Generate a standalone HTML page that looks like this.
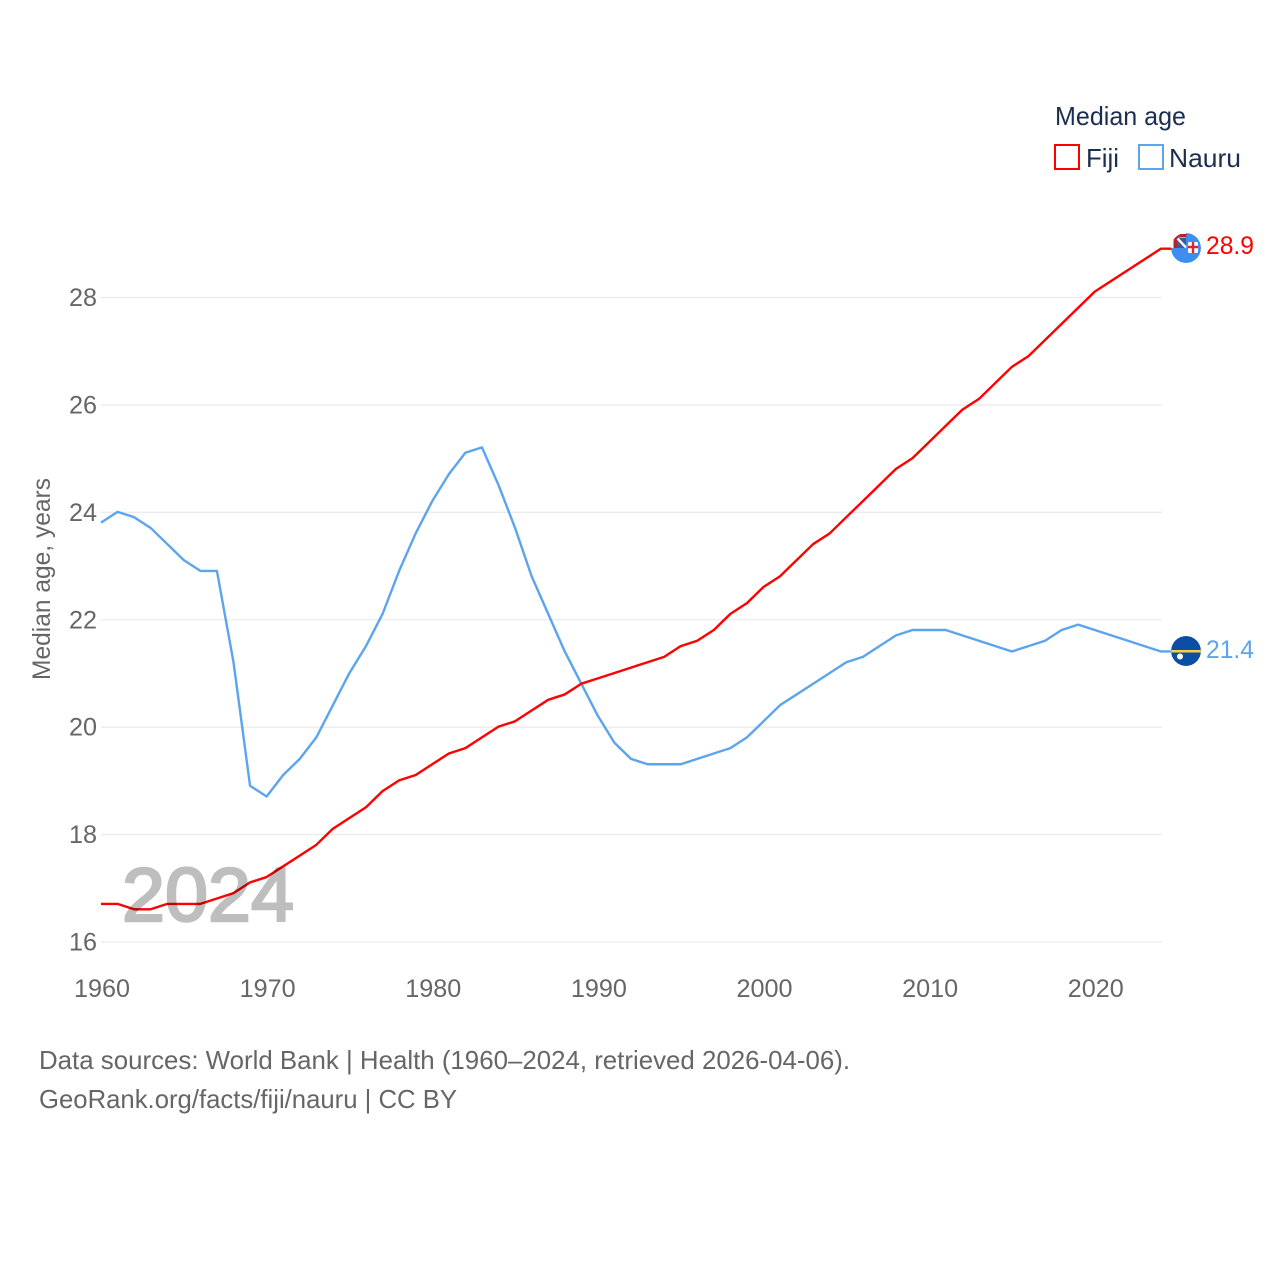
<!DOCTYPE html>
<html lang="en">
<head>
<meta charset="utf-8">
<title>Median age: Fiji and Nauru</title>
<style>
html,body{margin:0;padding:0;background:#fff;}
svg{display:block;font-family:"Liberation Sans",sans-serif;}
</style>
</head>
<body>
<svg id="chart" xmlns="http://www.w3.org/2000/svg" width="1280" height="1280" viewBox="0 0 1280 1280">
  <rect width="1280" height="1280" fill="#fff"/>
  <g id="grid"></g>
  <g id="yticks"></g>
  <g id="xticks"></g>
  <text transform="translate(50,680) rotate(-90)" font-size="25" fill="#666" textLength="202" lengthAdjust="spacingAndGlyphs">Median age, years</text>
  <g id="series" transform="translate(0,-0.5)"></g>
  <text id="year" x="122" y="921" font-size="76" fill="#000" stroke="#000" stroke-width="2.5" opacity="0.25" textLength="172" lengthAdjust="spacingAndGlyphs">2024</text>

  <g>
    <text x="1055" y="125" font-size="26" fill="#1a2f50" textLength="131" lengthAdjust="spacingAndGlyphs">Median age</text>
    <rect x="1055" y="145" width="24" height="24" fill="none" stroke="#ff0000" stroke-width="2"/>
    <text x="1086" y="167" font-size="26" fill="#1a2f50" textLength="33" lengthAdjust="spacingAndGlyphs">Fiji</text>
    <rect x="1139" y="145" width="24" height="24" fill="none" stroke="#5ba4ee" stroke-width="2"/>
    <text x="1169" y="167" font-size="26" fill="#1a2f50" textLength="72" lengthAdjust="spacingAndGlyphs">Nauru</text>
  </g>

  <defs>
    <clipPath id="fiji-clip"><circle cx="1186" cy="248" r="15"/></clipPath>
    <clipPath id="nauru-clip"><circle cx="1186" cy="651" r="15"/></clipPath>
  </defs>
  <g clip-path="url(#fiji-clip)">
    <circle cx="1186" cy="248" r="15" fill="#3a8ff0"/>
    <rect x="1171" y="233" width="15" height="15" fill="#fff"/>
    <path d="M1173.5 248V239Q1173.5 234 1179 234H1186.5V237.5H1180Q1177 237.5 1177 240.5V248Z" fill="#b5242b"/>
    <rect x="1177" y="238" width="9" height="10" fill="#3c5a9a"/>
    <path d="M1177.5 238.5L1186 247.5" stroke="#f4f4f4" stroke-width="2.4" fill="none"/>
    <rect x="1188" y="242" width="10" height="11" rx="1.5" fill="#fff"/>
    <path d="M1193 242V253M1188 247H1198" stroke="#d8282f" stroke-width="2.4" fill="none"/>
  </g>
  <g clip-path="url(#nauru-clip)">
    <circle cx="1186" cy="651" r="15" fill="#0a4ea6"/>
    <rect x="1171" y="650" width="30" height="2.5" fill="#f5cf45"/>
    <circle cx="1180" cy="656.5" r="3" fill="#fff"/>
  </g>
  <text x="1206" y="254" font-size="25" fill="#ff0000" textLength="48" lengthAdjust="spacingAndGlyphs">28.9</text>
  <text x="1206" y="658" font-size="25" fill="#5ba4ee" textLength="48" lengthAdjust="spacingAndGlyphs">21.4</text>

  <text x="39" y="1069" font-size="26" fill="#666" textLength="811" lengthAdjust="spacingAndGlyphs">Data sources: World Bank | Health (1960–2024, retrieved 2026-04-06).</text>
  <text x="39" y="1108" font-size="26" fill="#666" textLength="418" lengthAdjust="spacingAndGlyphs">GeoRank.org/facts/fiji/nauru | CC BY</text>
</svg>
<script>
const startYear = 1960;
const fijiValues = [16.7,16.7,16.6,16.6,16.7,16.7,16.7,16.8,16.9,17.1,17.2,17.4,17.6,17.8,18.1,18.3,18.5,18.8,19.0,19.1,19.3,19.5,19.6,19.8,20.0,20.1,20.3,20.5,20.6,20.8,20.9,21.0,21.1,21.2,21.3,21.5,21.6,21.8,22.1,22.3,22.6,22.8,23.1,23.4,23.6,23.9,24.2,24.5,24.8,25.0,25.3,25.6,25.9,26.1,26.4,26.7,26.9,27.2,27.5,27.8,28.1,28.3,28.5,28.7,28.9];
const nauruValues = [23.8,24.0,23.9,23.7,23.4,23.1,22.9,22.9,21.2,18.9,18.7,19.1,19.4,19.8,20.4,21.0,21.5,22.1,22.9,23.6,24.2,24.7,25.1,25.2,24.5,23.7,22.8,22.1,21.4,20.8,20.2,19.7,19.4,19.3,19.3,19.3,19.4,19.5,19.6,19.8,20.1,20.4,20.6,20.8,21.0,21.2,21.3,21.5,21.7,21.8,21.8,21.8,21.7,21.6,21.5,21.4,21.5,21.6,21.8,21.9,21.8,21.7,21.6,21.5,21.4];
const yTicks = [16,18,20,22,24,26,28];
const xTicks = [1960,1970,1980,1990,2000,2010,2020];

const NS = 'http://www.w3.org/2000/svg';
function xScale(year){ return 101 + (year - 1960) * (1161 - 101) / 64; }
function yScale(v){ return 942 - (v - 16) * (942 - 297.5) / 12; }
function make(tag, parent){
  const el = document.createElementNS(NS, tag);
  parent.appendChild(el);
  return el;
}

const gridG = document.getElementById('grid');
const yG = document.getElementById('yticks');
yTicks.forEach(function(t){
  const line = make('line', gridG);
  
  
  line.setAttribute('x1', 101);
  line.setAttribute('x2', 1162);
  line.setAttribute('y1', yScale(t));
  line.setAttribute('y2', yScale(t));
  line.setAttribute('stroke', '#ebebeb');
  line.setAttribute('stroke-width', '1.3');
  const label = make('text', yG);
  
  
  label.setAttribute('x', 97);
  label.setAttribute('y', yScale(t) + 8.5);
  label.setAttribute('text-anchor', 'end');
  label.setAttribute('font-size', '25');
  label.setAttribute('fill', '#666');
  label.setAttribute('textLength', '28');
  label.setAttribute('lengthAdjust', 'spacingAndGlyphs');
  label.textContent = t;
});

const xG = document.getElementById('xticks');
xTicks.forEach(function(t){
  const label = make('text', xG);
  
  
  label.setAttribute('x', xScale(t) + 1);
  label.setAttribute('y', 997);
  label.setAttribute('text-anchor', 'middle');
  label.setAttribute('font-size', '25');
  label.setAttribute('fill', '#666');
  label.setAttribute('textLength', '56');
  label.setAttribute('lengthAdjust', 'spacingAndGlyphs');
  label.textContent = t;
});

const seriesG = document.getElementById('series');
function drawSeries(values, color){
  const pts = values.map(function(v, i){ return xScale(startYear + i).toFixed(2) + ',' + yScale(v).toFixed(2); });
  const lastY = yScale(values[values.length - 1]).toFixed(2);
  pts.push('1172,' + lastY);
  const line = make('polyline', seriesG);
  line.setAttribute('points', pts.join(' '));
  line.setAttribute('fill', 'none');
  line.setAttribute('stroke', color);
  line.setAttribute('stroke-width', '2.4');
  line.setAttribute('stroke-linejoin', 'round');
  return line;
}
const nauruLine = drawSeries(nauruValues, '#5ba4ee');


const fijiLine = drawSeries(fijiValues, '#ff0000');


</script>
</body>
</html>
